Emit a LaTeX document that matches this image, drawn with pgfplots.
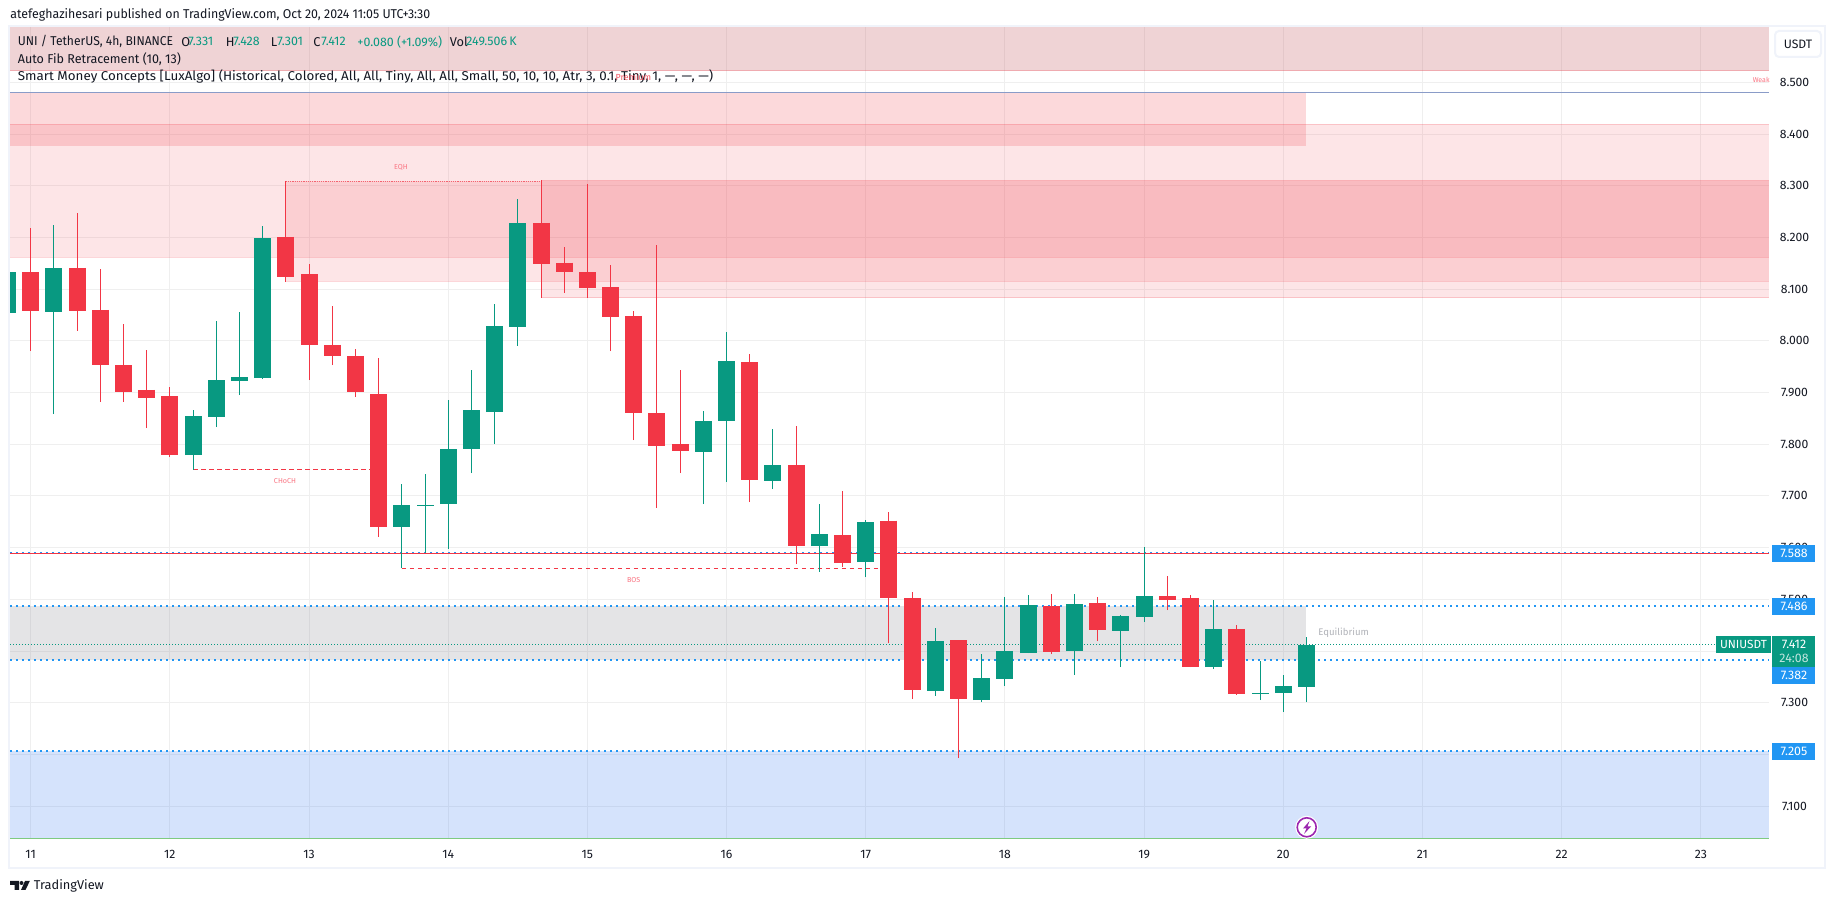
\documentclass[border=0pt]{standalone}
\usepackage{graphicx}
\usepackage{fontspec}
\setmainfont{Fira Sans}
\usepackage{pgfplots}
\pgfplotsset{compat=1.18}
\definecolor{tvred}{HTML}{F23645}
\definecolor{tvgreen}{HTML}{089981}
\definecolor{tvblue}{HTML}{2196F3}
\definecolor{tvtext}{HTML}{131722}
\definecolor{gridc}{HTML}{EFEFEF}
\definecolor{frame}{HTML}{F0F3FA}
\definecolor{topband}{HTML}{C3535B}
\definecolor{eqgray}{HTML}{787B86}
\definecolor{demand}{HTML}{2D73F0}
\definecolor{pale}{HTML}{FA7583}
\definecolor{fibline}{HTML}{8A9CC8}
\definecolor{lowline}{HTML}{7ECB80}
\definecolor{alertc}{HTML}{9C27B0}
\definecolor{eqtext}{HTML}{B0B2B8}
\newcommand{\fs}[1]{\fontsize{#1}{#1}\selectfont}
% one candle: index, open, high, low, close
\newcommand{\up}[5]{%
  \addplot[tvgreen,line width=0.5pt] coordinates {(#1,#4)(#1,#3)};
  \addplot[tvgreen,line width=8.5pt] coordinates {(#1,#2)(#1,#5)};}
\newcommand{\dn}[5]{%
  \addplot[tvred,line width=0.5pt] coordinates {(#1,#4)(#1,#3)};
  \addplot[tvred,line width=8.5pt] coordinates {(#1,#2)(#1,#5)};}
% translucent zone: x1, x2, top, bottom, colour, opacity
\newcommand{\zone}[6]{%
  \addplot[draw=none,fill=#5,fill opacity=#6,forget plot] coordinates {(#1,#3)(#2,#3)(#2,#4)(#1,#4)} --cycle;}
\newcommand{\edge}[3]{%
  \addplot[tvred,opacity=.2,line width=.5pt] coordinates {(#1,#3)(#2,#3)};}
\begin{document}
\begin{tikzpicture}
\path[use as bounding box,fill=white] (0,0) rectangle (917.5pt,451.5pt);
\begin{axis}[
  at={(5pt,32pt)},anchor=south west,
  scale only axis,width=879.5pt,height=406pt,
  xmin=-0.892,xmax=74.94,ymin=7.0364,ymax=8.6070,
  clip mode=individual,
  axis line style={draw=none},
  tick style={draw=none},
  major tick length=0pt,
  grid=major,grid style={draw=gridc,line width=.5pt},
  xtick={0,6,12,18,24,30,36,42,48,54,60,66,72},
  xticklabels={11,12,13,14,15,16,17,18,19,20,21,22,23},
  ytick={7.1,7.2,7.3,7.4,7.5,7.6,7.7,7.8,7.9,8.0,8.1,8.2,8.3,8.4,8.5},
  yticklabel pos=right,
  yticklabel style={anchor=center,xshift=12.75pt,font=\fs{6.1},text=tvtext,
    /pgf/number format/.cd,fixed,fixed zerofill,precision=3,assume math mode=true},
  xticklabel style={anchor=center,yshift=-7.5pt,font=\fs{6.1},text=tvtext},
]
% zones
\zone{-0.892}{74.94}{8.6070}{8.5224}{topband}{.25}
\addplot[color=tvred,opacity=.25,line width=.5pt] coordinates {(-0.892,8.5224)(74.94,8.5224)};
\zone{-0.892}{55}{8.4807}{8.3776}{tvred}{.19}
\zone{-0.892}{74.94}{8.4188}{8.1616}{tvred}{.125}
\zone{11}{74.94}{8.3091}{8.1151}{tvred}{.125}
\zone{22}{74.94}{8.3105}{8.0834}{tvred}{.125}
\edge{-0.892}{74.94}{8.4188}
\edge{-0.892}{74.94}{8.1616}
\edge{11}{74.94}{8.1151}
\edge{22}{74.94}{8.0834}
\edge{22}{74.94}{8.3105}
\zone{-0.892}{55}{7.487}{7.3826}{eqgray}{.2}
\zone{-0.892}{74.94}{7.2068}{7.0364}{demand}{.2}
% levels
\addplot[fibline,line width=.6pt] coordinates {(-0.892,8.4807)(74.94,8.4807)};
\addplot[tvblue,line width=.8pt,dash pattern=on 1pt off 2pt] coordinates {(-0.892,7.5909)(74.94,7.5909)};
\addplot[tvred,line width=.6pt] coordinates {(-0.892,7.589)(74.94,7.589)};
\addplot[tvblue,line width=.8pt,dash pattern=on 1pt off 2pt] coordinates {(-0.892,7.487)(74.94,7.487)};
\addplot[tvblue,line width=.8pt,dash pattern=on 1pt off 2pt] coordinates {(-0.892,7.3826)(74.94,7.3826)};
\addplot[tvblue,line width=.8pt,dash pattern=on 1pt off 2pt] coordinates {(-0.892,7.2068)(74.94,7.2068)};
\addplot[tvgreen,line width=.5pt,dash pattern=on .5pt off 1pt] coordinates {(-0.892,7.4129)(74.94,7.4129)};
\addplot[lowline,line width=.7pt] coordinates {(-0.892,7.0375)(74.94,7.0375)};
% structure
\addplot[tvred,opacity=.7,line width=.5pt,dash pattern=on .6pt off .5pt] coordinates {(11,8.309)(22,8.309)};
\addplot[tvred,line width=.6pt,dash pattern=on 2.3pt off 1.7pt] coordinates {(7,7.7513)(15,7.7513)};
\addplot[tvred,line width=.6pt,dash pattern=on 2.3pt off 1.7pt] coordinates {(16,7.5599)(37,7.5599)};
% candles: index, open, high, low, close
\up{-1}{8.054}{8.133}{8.054}{8.133}
\dn{0}{8.133}{8.218}{7.980}{8.058}
\up{1}{8.056}{8.224}{7.858}{8.141}
\dn{2}{8.141}{8.247}{8.019}{8.058}
\dn{3}{8.060}{8.139}{7.882}{7.953}
\dn{4}{7.953}{8.033}{7.882}{7.901}
\dn{5}{7.905}{7.982}{7.831}{7.889}
\dn{6}{7.893}{7.911}{7.775}{7.779}
\up{7}{7.779}{7.866}{7.751}{7.855}
\up{8}{7.853}{8.038}{7.833}{7.924}
\up{9}{7.922}{8.056}{7.895}{7.930}
\up{10}{7.928}{8.222}{7.926}{8.199}
\dn{11}{8.201}{8.309}{8.114}{8.123}
\dn{12}{8.129}{8.149}{7.924}{7.992}
\dn{13}{7.992}{8.067}{7.953}{7.971}
\dn{14}{7.971}{7.984}{7.891}{7.901}
\dn{15}{7.897}{7.967}{7.621}{7.640}
\up{16}{7.640}{7.723}{7.560}{7.682}
\up{17}{7.681}{7.742}{7.590}{7.682}
\up{18}{7.684}{7.886}{7.597}{7.791}
\up{19}{7.791}{7.944}{7.744}{7.866}
\up{20}{7.862}{8.071}{7.800}{8.029}
\up{21}{8.027}{8.274}{7.990}{8.228}
\dn{22}{8.228}{8.311}{8.083}{8.149}
\dn{23}{8.151}{8.182}{8.093}{8.133}
\dn{24}{8.133}{8.303}{8.083}{8.102}
\dn{25}{8.104}{8.147}{7.980}{8.046}
\dn{26}{8.048}{8.058}{7.808}{7.860}
\dn{27}{7.860}{8.185}{7.677}{7.797}
\dn{28}{7.800}{7.944}{7.744}{7.787}
\up{29}{7.785}{7.864}{7.684}{7.845}
\up{30}{7.845}{8.017}{7.727}{7.961}
\dn{31}{7.959}{7.975}{7.688}{7.731}
\up{32}{7.729}{7.829}{7.713}{7.760}
\dn{33}{7.760}{7.835}{7.568}{7.603}
\up{34}{7.603}{7.684}{7.553}{7.626}
\dn{35}{7.624}{7.710}{7.563}{7.570}
\up{36}{7.572}{7.653}{7.543}{7.650}
\dn{37}{7.652}{7.669}{7.415}{7.503}
\dn{38}{7.503}{7.514}{7.307}{7.325}
\up{39}{7.323}{7.444}{7.313}{7.419}
\dn{40}{7.421}{7.421}{7.193}{7.307}
\up{41}{7.305}{7.394}{7.301}{7.348}
\up{42}{7.346}{7.504}{7.332}{7.400}
\up{43}{7.396}{7.508}{7.396}{7.489}
\dn{44}{7.487}{7.510}{7.394}{7.398}
\up{45}{7.400}{7.510}{7.354}{7.491}
\dn{46}{7.493}{7.504}{7.419}{7.441}
\up{47}{7.439}{7.470}{7.369}{7.468}
\up{48}{7.466}{7.601}{7.456}{7.506}
\dn{49}{7.506}{7.545}{7.479}{7.499}
\dn{50}{7.503}{7.508}{7.369}{7.369}
\up{51}{7.369}{7.499}{7.365}{7.443}
\dn{52}{7.443}{7.450}{7.315}{7.317}
\up{53}{7.317}{7.381}{7.305}{7.319}
\up{54}{7.319}{7.354}{7.282}{7.332}
\up{55}{7.331}{7.428}{7.301}{7.412}
\end{axis}
% furniture, in reference pixels
\begin{scope}[x=.5pt,y=-.5pt,yshift=451.5pt]
\draw[frame,line width=1pt] (9,26) rectangle (1825,868);
\tikzset{t/.style={anchor=west,inner sep=0pt,text=tvtext,font=\fs{6.4}},
         g/.style={anchor=west,inner sep=0pt,text=tvgreen,font=\fs{6.2}},
         tag/.style={inner sep=0pt,text=white,font=\fs{6.2}}}
\node[t] at (10,15) {\scalebox{.965}[1]{atefeghazihesari published on TradingView.com, Oct 20, 2024 11:05 UTC+3:30}};
\node[t] at (17.5,41.7) {\scalebox{.945}[1]{UNI / TetherUS, 4h, BINANCE}};
\node[t] at (181,41.7) {O}; \node[g] at (188,41.7) {7.331};
\node[t] at (225.5,41.7) {H}; \node[g] at (233,41.7) {7.428};
\node[t] at (270.5,41.7) {L}; \node[g] at (277,41.7) {7.301};
\node[t] at (313,41.7) {C}; \node[g] at (321,41.7) {7.412};
\node[g] at (357,41.7) {+0.080 (+1.09\%)};
\node[t] at (449.5,41.7) {Vol}; \node[g] at (466,41.7) {249.506\,K};
\node[t] at (17.5,58.7) {\scalebox{.98}[1]{Auto Fib Retracement (10, 13)}};
\node[t] at (17.5,76) {\scalebox{1.045}[1]{Smart Money Concepts [LuxAlgo] (Historical, Colored, All, All, Tiny, All, All, Small, 50, 10, 10, Atr, 3, 0.1, Tiny, 1, ---, ---, ---)}};
% small chart labels
\node[inner sep=0pt,text=tvred!85,font=\fs{4.4}] at (633.5,76.7) {Premium};
\node[anchor=east,inner sep=0pt,text=pale,font=\fs{3.5}] at (1770,80.3) {Weak};
\node[inner sep=0pt,text=pale,font=\fs{3.6}] at (401,167.7) {EQH};
\node[inner sep=0pt,text=pale,font=\fs{3.6}] at (285,480.7) {CHoCH};
\node[inner sep=0pt,text=pale,font=\fs{3.6}] at (633.7,579.7) {BOS};
\node[anchor=west,inner sep=0pt,text=eqtext,font=\fs{4.8}] at (1318,632.7) {Equilibrium};
% price tags
\fill[tvblue] (1772,545) rectangle (1815,562);
\node[tag] at (1794,553.6) {7.588};
\fill[tvblue] (1772,598) rectangle (1815,615);
\node[tag] at (1794,606.5) {7.486};
\fill[tvblue] (1772,666.7) rectangle (1815,683.7);
\node[tag] at (1794,675.2) {7.382};
\fill[tvblue] (1772,743) rectangle (1815,759.7);
\node[tag] at (1794,751.4) {7.205};
\fill[tvgreen] (1772,636) rectangle (1815,666.7);
\node[tag] at (1794,644.7) {7.412};
\node[tag,text=white!75!tvgreen] at (1794,658.3) {24:08};
\fill[tvgreen] (1716,636) rectangle (1771,653);
\node[tag,font=\fs{5.9}] at (1743.5,644.7) {UNIUSDT};
% currency button
\draw[frame,line width=1pt,fill=white,rounded corners=2pt] (1775,31) rectangle (1821,57);
\node[inner sep=0pt,text=tvtext,font=\fs{6.1}] at (1798,44.5) {USDT};
% alert icon
\fill[white] (1306.7,827.3) circle (5.75pt);
\draw[alertc,line width=.8pt] (1306.7,827.3) circle (4.75pt);
\fill[alertc] (1309.5,821)--(1303,828.5)--(1306.5,828.5)--(1304,834)--(1311,826.5)--(1307.5,826.5)--cycle;
% footer mark
\fill[tvtext] (10,881)--(19,881)--(19,890)--(14.5,890)--(14.5,885)--(10,885)--cycle;
\fill[tvtext] (21.5,883) circle (1pt);
\fill[tvtext] (25,881)--(29.8,881)--(25.5,890)--(21,890)--cycle;
\node[anchor=west,inner sep=0pt,text=tvtext,font=\fs{6.4}] at (33.5,886) {TradingView};
\end{scope}
\end{tikzpicture}
\end{document}
